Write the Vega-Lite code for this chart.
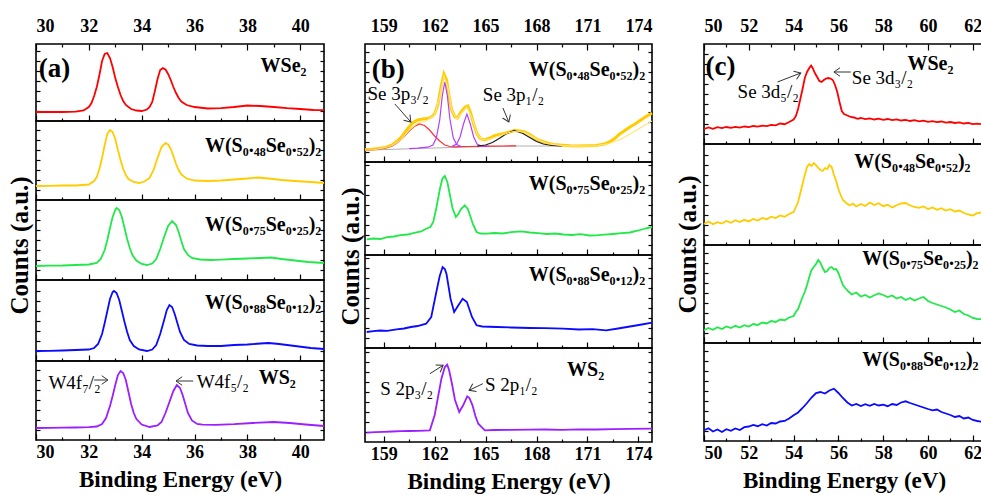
{
"$schema":"https://vega.github.io/schema/vega-lite/v6.json",
"background":"white",
"padding":{"left":6,"top":16,"right":0,"bottom":0},
"config":{
 "font":"Liberation Serif",
 "view":{"stroke":"black","strokeWidth":1.6},
 "axis":{"labelFont":"Liberation Serif","labelFontSize":18,"labelFontWeight":"bold","labelColor":"black","tickColor":"black","tickWidth":1.2,"titleFont":"Liberation Serif","titleFontSize":23,"titleFontWeight":"bold","titleColor":"black","grid":false,"domain":false},
 "text":{"font":"Liberation Serif","fontWeight":"bold","fontSize":20,"color":"black"},
 "line":{"strokeWidth":1.8,"clip":true}
},
"datasets":{
 "a1":[{"x":30,"y":9},{"x":30.5,"y":9.2},{"x":31,"y":9},{"x":31.5,"y":9.3},{"x":31.8,"y":10.5},{"x":32,"y":14},{"x":32.1,"y":18},{"x":32.2,"y":25},{"x":32.3,"y":34},{"x":32.4,"y":46},{"x":32.5,"y":60},{"x":32.6,"y":67},{"x":32.7,"y":68},{"x":32.8,"y":63},{"x":32.9,"y":54},{"x":33,"y":43},{"x":33.1,"y":34},{"x":33.2,"y":26},{"x":33.3,"y":20},{"x":33.4,"y":16},{"x":33.6,"y":12},{"x":33.8,"y":10.5},{"x":34,"y":10},{"x":34.2,"y":11.5},{"x":34.3,"y":14},{"x":34.4,"y":19},{"x":34.5,"y":30},{"x":34.6,"y":42},{"x":34.7,"y":51},{"x":34.8,"y":53},{"x":34.9,"y":51.5},{"x":35,"y":47},{"x":35.1,"y":41},{"x":35.2,"y":34},{"x":35.3,"y":28},{"x":35.4,"y":23},{"x":35.5,"y":19.5},{"x":35.7,"y":16},{"x":36,"y":14},{"x":36.5,"y":12.5},{"x":37,"y":12.8},{"x":37.5,"y":14},{"x":38,"y":15.5},{"x":38.5,"y":15},{"x":39,"y":14},{"x":39.5,"y":12.8},{"x":40,"y":12},{"x":40.5,"y":11},{"x":40.9,"y":10.8}],
 "a2":[{"x":30,"y":14},{"x":30.5,"y":14.2},{"x":31,"y":14.5},{"x":31.5,"y":14.5},{"x":32,"y":15.5},{"x":32.2,"y":19},{"x":32.3,"y":23},{"x":32.4,"y":31},{"x":32.5,"y":42},{"x":32.6,"y":55},{"x":32.7,"y":66},{"x":32.8,"y":70},{"x":32.9,"y":68},{"x":33,"y":61},{"x":33.1,"y":50},{"x":33.2,"y":40},{"x":33.3,"y":31},{"x":33.4,"y":25},{"x":33.5,"y":21},{"x":33.7,"y":18},{"x":33.9,"y":17},{"x":34.1,"y":18.5},{"x":34.3,"y":22},{"x":34.45,"y":30},{"x":34.6,"y":42},{"x":34.75,"y":53},{"x":34.9,"y":57},{"x":35,"y":55.5},{"x":35.1,"y":51},{"x":35.2,"y":44},{"x":35.3,"y":36},{"x":35.4,"y":30},{"x":35.5,"y":25.5},{"x":35.7,"y":21.5},{"x":36,"y":19.5},{"x":36.5,"y":19},{"x":37,"y":19.5},{"x":37.5,"y":20.5},{"x":38,"y":21.5},{"x":38.4,"y":22.5},{"x":38.8,"y":21.5},{"x":39.3,"y":20},{"x":39.8,"y":19},{"x":40.4,"y":18},{"x":40.9,"y":17}],
 "a3":[{"x":30,"y":14},{"x":30.5,"y":14.3},{"x":31,"y":14.5},{"x":31.5,"y":15},{"x":32,"y":15.5},{"x":32.3,"y":17},{"x":32.45,"y":21},{"x":32.6,"y":30},{"x":32.7,"y":40},{"x":32.8,"y":52},{"x":32.9,"y":63},{"x":33,"y":70},{"x":33.05,"y":72},{"x":33.15,"y":70},{"x":33.25,"y":63},{"x":33.35,"y":52},{"x":33.45,"y":41},{"x":33.55,"y":32},{"x":33.65,"y":25},{"x":33.8,"y":19.5},{"x":34,"y":16},{"x":34.2,"y":15},{"x":34.4,"y":16.5},{"x":34.55,"y":21},{"x":34.7,"y":31},{"x":34.85,"y":43},{"x":35,"y":54},{"x":35.15,"y":59},{"x":35.3,"y":55},{"x":35.4,"y":48},{"x":35.5,"y":39},{"x":35.6,"y":31},{"x":35.75,"y":25},{"x":35.9,"y":22},{"x":36.2,"y":20.5},{"x":36.6,"y":20},{"x":37,"y":20.3},{"x":37.5,"y":21},{"x":38,"y":21.5},{"x":38.5,"y":22},{"x":38.9,"y":22.5},{"x":39.3,"y":21},{"x":39.8,"y":19.5},{"x":40.3,"y":18},{"x":40.9,"y":17}],
 "a4":[{"x":30,"y":10},{"x":30.5,"y":10.2},{"x":31,"y":10.5},{"x":31.5,"y":11},{"x":32,"y":11.5},{"x":32.2,"y":13},{"x":32.35,"y":17},{"x":32.5,"y":27},{"x":32.6,"y":38},{"x":32.7,"y":50},{"x":32.8,"y":62},{"x":32.9,"y":69},{"x":32.95,"y":70},{"x":33.05,"y":68},{"x":33.15,"y":61},{"x":33.25,"y":50},{"x":33.35,"y":39},{"x":33.45,"y":29},{"x":33.55,"y":21},{"x":33.7,"y":15},{"x":33.9,"y":11.5},{"x":34.2,"y":10},{"x":34.4,"y":11.5},{"x":34.55,"y":16},{"x":34.7,"y":27},{"x":34.85,"y":41},{"x":34.95,"y":51},{"x":35.05,"y":56},{"x":35.15,"y":54},{"x":35.25,"y":47},{"x":35.35,"y":38},{"x":35.45,"y":29},{"x":35.6,"y":21},{"x":35.8,"y":17},{"x":36.1,"y":15.5},{"x":36.5,"y":15},{"x":37,"y":15},{"x":37.5,"y":16},{"x":38,"y":16.5},{"x":38.5,"y":17.5},{"x":38.8,"y":18},{"x":39.2,"y":17},{"x":39.8,"y":15},{"x":40.4,"y":13},{"x":40.9,"y":12}],
 "a5":[{"x":30,"y":12},{"x":30.5,"y":12.2},{"x":31,"y":12.3},{"x":31.5,"y":12.5},{"x":32,"y":12.8},{"x":32.3,"y":13.5},{"x":32.5,"y":16},{"x":32.65,"y":22},{"x":32.8,"y":34},{"x":32.9,"y":44},{"x":33,"y":55},{"x":33.1,"y":65},{"x":33.2,"y":69},{"x":33.3,"y":67},{"x":33.4,"y":60},{"x":33.5,"y":48},{"x":33.6,"y":36},{"x":33.7,"y":27},{"x":33.8,"y":21},{"x":34,"y":15.5},{"x":34.3,"y":13},{"x":34.6,"y":14.5},{"x":34.75,"y":18},{"x":34.9,"y":27},{"x":35.05,"y":38},{"x":35.2,"y":49},{"x":35.33,"y":55},{"x":35.45,"y":52},{"x":35.55,"y":45},{"x":35.65,"y":36},{"x":35.75,"y":27},{"x":35.9,"y":19.5},{"x":36.1,"y":16},{"x":36.3,"y":15.3},{"x":36.8,"y":15.2},{"x":37.5,"y":15.8},{"x":38.2,"y":17},{"x":39,"y":18},{"x":39.6,"y":17},{"x":40.2,"y":15.5},{"x":40.9,"y":14}],
 "b1y":[{"x":157.9,"y":12.5},{"x":158.3,"y":12.8},{"x":158.7,"y":13.5},{"x":159.1,"y":14.5},{"x":159.5,"y":17},{"x":159.8,"y":21},{"x":160.1,"y":26},{"x":160.4,"y":33},{"x":160.7,"y":39},{"x":161,"y":42},{"x":161.3,"y":43},{"x":161.6,"y":43.5},{"x":161.8,"y":45},{"x":162,"y":48},{"x":162.2,"y":58},{"x":162.4,"y":77},{"x":162.55,"y":88},{"x":162.7,"y":82},{"x":162.85,"y":66},{"x":163,"y":52},{"x":163.2,"y":45},{"x":163.35,"y":44},{"x":163.55,"y":50},{"x":163.8,"y":55},{"x":163.95,"y":56},{"x":164.1,"y":50},{"x":164.3,"y":38},{"x":164.5,"y":28},{"x":164.7,"y":23.5},{"x":164.9,"y":22},{"x":165.2,"y":23.5},{"x":165.5,"y":26},{"x":165.8,"y":27.5},{"x":166.1,"y":28.5},{"x":166.4,"y":30},{"x":166.7,"y":31.5},{"x":167,"y":31},{"x":167.3,"y":30},{"x":167.6,"y":27.5},{"x":167.9,"y":24},{"x":168.2,"y":21.5},{"x":168.6,"y":19},{"x":169,"y":17.5},{"x":169.5,"y":16.8},{"x":170,"y":16.2},{"x":170.5,"y":16},{"x":171,"y":16.3},{"x":171.5,"y":16.5},{"x":172,"y":18},{"x":172.3,"y":20},{"x":172.6,"y":23.5},{"x":172.9,"y":28},{"x":173.2,"y":31.5},{"x":173.5,"y":35},{"x":173.8,"y":38},{"x":174.1,"y":41.5},{"x":174.4,"y":45},{"x":174.8,"y":49}],
 "b1f":[{"x":157.9,"y":12},{"x":158.5,"y":12.5},{"x":159,"y":14},{"x":159.5,"y":16.5},{"x":160,"y":22},{"x":160.5,"y":32},{"x":161,"y":39},{"x":161.5,"y":41},{"x":162,"y":47},{"x":162.3,"y":65},{"x":162.55,"y":86},{"x":162.8,"y":73},{"x":163,"y":52},{"x":163.3,"y":43},{"x":163.6,"y":49},{"x":163.9,"y":55},{"x":164.2,"y":44},{"x":164.5,"y":28},{"x":164.8,"y":22},{"x":165.2,"y":22.5},{"x":165.8,"y":26},{"x":166.4,"y":29.5},{"x":166.8,"y":31},{"x":167.3,"y":29.5},{"x":167.9,"y":24},{"x":168.6,"y":18.5},{"x":169.5,"y":16.3},{"x":170.5,"y":15.8},{"x":171.5,"y":16.2},{"x":172.3,"y":18.5},{"x":173,"y":23},{"x":173.6,"y":29},{"x":174.2,"y":35},{"x":174.8,"y":41}],
 "b1r":[{"x":157.9,"y":12},{"x":158.5,"y":12.5},{"x":159,"y":13.5},{"x":159.5,"y":16},{"x":159.9,"y":20.5},{"x":160.2,"y":25.5},{"x":160.5,"y":31},{"x":160.8,"y":35.5},{"x":161.1,"y":38},{"x":161.4,"y":36.5},{"x":161.7,"y":32},{"x":162,"y":26},{"x":162.3,"y":21},{"x":162.6,"y":17},{"x":162.9,"y":15.5},{"x":163.2,"y":15.2},{"x":163.5,"y":15.3},{"x":164,"y":15.5},{"x":165,"y":15.8},{"x":166,"y":16},{"x":166.8,"y":16.2}],
 "b1p":[{"g":"p1","x":160.5,"y":13.3},{"g":"p1","x":161,"y":13.8},{"g":"p1","x":161.6,"y":14.8},{"g":"p1","x":161.9,"y":17},{"g":"p1","x":162.1,"y":24},{"g":"p1","x":162.3,"y":42},{"g":"p1","x":162.45,"y":66},{"g":"p1","x":162.6,"y":80},{"g":"p1","x":162.75,"y":66},{"g":"p1","x":162.9,"y":43},{"g":"p1","x":163.1,"y":24},{"g":"p1","x":163.3,"y":17.5},{"g":"p1","x":163.6,"y":15.3},{"g":"p2","x":163,"y":15.4},{"g":"p2","x":163.3,"y":18},{"g":"p2","x":163.5,"y":25},{"g":"p2","x":163.7,"y":38},{"g":"p2","x":163.9,"y":48},{"g":"p2","x":164.1,"y":38},{"g":"p2","x":164.3,"y":25},{"g":"p2","x":164.5,"y":18},{"g":"p2","x":164.8,"y":15.8},{"g":"p2","x":165.2,"y":15.7}],
 "b1k":[{"x":164.5,"y":16},{"x":165,"y":17},{"x":165.4,"y":19.5},{"x":165.8,"y":23.5},{"x":166.2,"y":28},{"x":166.7,"y":31.5},{"x":167.2,"y":28.5},{"x":167.6,"y":24.5},{"x":168,"y":20.5},{"x":168.4,"y":18},{"x":168.9,"y":16.5},{"x":169.5,"y":16}],
 "b1g":[{"x":157.9,"y":11.8},{"x":161,"y":13.5},{"x":164,"y":15},{"x":167,"y":16},{"x":169.5,"y":16}],
 "b2":[{"x":158,"y":15.7},{"x":158.4,"y":16.5},{"x":158.8,"y":16},{"x":159.2,"y":17.8},{"x":159.6,"y":18.5},{"x":160,"y":19.8},{"x":160.4,"y":20.5},{"x":160.8,"y":22.2},{"x":161.2,"y":23.5},{"x":161.5,"y":26.3},{"x":161.75,"y":28},{"x":161.92,"y":33},{"x":162.1,"y":47},{"x":162.31,"y":66},{"x":162.45,"y":76},{"x":162.6,"y":79},{"x":162.75,"y":73},{"x":162.9,"y":60},{"x":163.05,"y":47},{"x":163.25,"y":38},{"x":163.4,"y":41},{"x":163.55,"y":46},{"x":163.78,"y":49.7},{"x":163.95,"y":46},{"x":164.08,"y":40},{"x":164.25,"y":31},{"x":164.47,"y":23},{"x":164.7,"y":21.5},{"x":165.06,"y":21.3},{"x":165.5,"y":22},{"x":166,"y":21.5},{"x":166.5,"y":22.8},{"x":167.1,"y":23.7},{"x":167.6,"y":22.5},{"x":168.1,"y":21.8},{"x":168.6,"y":21},{"x":169.1,"y":21.5},{"x":169.6,"y":20.5},{"x":170.1,"y":20},{"x":170.6,"y":20.8},{"x":171.1,"y":19.5},{"x":171.5,"y":19.7},{"x":172,"y":20.3},{"x":172.5,"y":21},{"x":173,"y":21.8},{"x":173.5,"y":22.5},{"x":174,"y":24.5},{"x":174.4,"y":26.5},{"x":174.8,"y":28}],
 "b3":[{"x":158,"y":16},{"x":158.4,"y":16.8},{"x":158.8,"y":17.5},{"x":159.2,"y":17.2},{"x":159.76,"y":18.7},{"x":160.2,"y":19.5},{"x":160.6,"y":21},{"x":161,"y":22},{"x":161.5,"y":24.3},{"x":161.8,"y":31},{"x":162.1,"y":56},{"x":162.3,"y":72},{"x":162.47,"y":81},{"x":162.6,"y":79},{"x":162.7,"y":74},{"x":162.94,"y":49},{"x":163.15,"y":36},{"x":163.4,"y":42.7},{"x":163.65,"y":49.3},{"x":163.9,"y":46},{"x":164.2,"y":31},{"x":164.47,"y":22.7},{"x":164.8,"y":21.5},{"x":165.65,"y":21},{"x":166.5,"y":20.5},{"x":167.6,"y":20},{"x":168.5,"y":19.8},{"x":169.57,"y":19.3},{"x":170.5,"y":18.5},{"x":171.3,"y":18.8},{"x":172.1,"y":17.7},{"x":172.8,"y":19.5},{"x":173.5,"y":21.5},{"x":174.2,"y":23.5},{"x":174.8,"y":25.3}],
 "b4":[{"x":158,"y":9.3},{"x":158.5,"y":9.8},{"x":159,"y":10.2},{"x":159.5,"y":10.5},{"x":160,"y":10.8},{"x":160.5,"y":11},{"x":161,"y":11.2},{"x":161.72,"y":11.7},{"x":162,"y":26.7},{"x":162.2,"y":45},{"x":162.4,"y":63.3},{"x":162.6,"y":75},{"x":162.74,"y":77.3},{"x":162.85,"y":72},{"x":163,"y":60},{"x":163.2,"y":42},{"x":163.45,"y":30},{"x":163.68,"y":36.7},{"x":163.92,"y":45.7},{"x":164.05,"y":44},{"x":164.23,"y":36.7},{"x":164.4,"y":26},{"x":164.57,"y":18.3},{"x":164.96,"y":11.7},{"x":165.5,"y":12},{"x":166.5,"y":12.2},{"x":167.6,"y":12.3},{"x":168.5,"y":12.5},{"x":169.5,"y":12.2},{"x":170.5,"y":12.7},{"x":171.53,"y":12.5},{"x":172.5,"y":12.9},{"x":173.5,"y":13.1},{"x":174.8,"y":13.3}],
 "c1":[{"x":50,"y":15},{"x":50.2,"y":16.5},{"x":50.4,"y":15.2},{"x":50.6,"y":16.8},{"x":50.8,"y":15.9},{"x":51,"y":17},{"x":51.2,"y":16.1},{"x":51.4,"y":17.2},{"x":51.6,"y":16.4},{"x":51.8,"y":17.5},{"x":52,"y":16.8},{"x":52.2,"y":18},{"x":52.4,"y":17.3},{"x":52.6,"y":18.4},{"x":52.8,"y":17.8},{"x":53,"y":19.2},{"x":53.2,"y":18.6},{"x":53.4,"y":20.5},{"x":53.6,"y":19.8},{"x":53.8,"y":22},{"x":54,"y":24.5},{"x":54.1,"y":28},{"x":54.2,"y":35},{"x":54.3,"y":45},{"x":54.4,"y":55},{"x":54.5,"y":66},{"x":54.6,"y":72},{"x":54.7,"y":76},{"x":54.78,"y":78.5},{"x":54.85,"y":76},{"x":54.95,"y":71},{"x":55.05,"y":67},{"x":55.15,"y":63},{"x":55.25,"y":62},{"x":55.35,"y":64},{"x":55.45,"y":65.5},{"x":55.55,"y":66},{"x":55.65,"y":65.5},{"x":55.75,"y":64},{"x":55.85,"y":59},{"x":55.95,"y":52},{"x":56.05,"y":42},{"x":56.15,"y":33},{"x":56.25,"y":30},{"x":56.4,"y":28.5},{"x":56.55,"y":27},{"x":56.7,"y":26.5},{"x":56.85,"y":25.2},{"x":57,"y":26},{"x":57.2,"y":24.8},{"x":57.4,"y":25.6},{"x":57.6,"y":24.5},{"x":57.8,"y":25.3},{"x":58,"y":24.2},{"x":58.2,"y":25},{"x":58.4,"y":23.8},{"x":58.6,"y":24.6},{"x":58.8,"y":23.5},{"x":59,"y":24.2},{"x":59.2,"y":23},{"x":59.4,"y":23.8},{"x":59.6,"y":22.6},{"x":59.8,"y":23.3},{"x":60,"y":22.2},{"x":60.2,"y":22.9},{"x":60.4,"y":21.8},{"x":60.6,"y":22.5},{"x":60.8,"y":21.4},{"x":61,"y":22},{"x":61.2,"y":21},{"x":61.4,"y":21.6},{"x":61.6,"y":20.5},{"x":61.8,"y":21.1},{"x":62,"y":19.9},{"x":62.2,"y":20.4},{"x":62.5,"y":19.3}],
 "c2":[{"x":50,"y":21},{"x":50.2,"y":23.5},{"x":50.4,"y":20.8},{"x":50.6,"y":22.9},{"x":50.8,"y":21.5},{"x":51,"y":24},{"x":51.2,"y":22.2},{"x":51.4,"y":24.8},{"x":51.6,"y":23},{"x":51.8,"y":25.2},{"x":52,"y":23.6},{"x":52.2,"y":26},{"x":52.4,"y":24.5},{"x":52.6,"y":27},{"x":52.8,"y":25.8},{"x":53,"y":28.3},{"x":53.2,"y":26.9},{"x":53.4,"y":29.5},{"x":53.6,"y":28.2},{"x":53.8,"y":31},{"x":54,"y":33},{"x":54.1,"y":38},{"x":54.2,"y":43},{"x":54.3,"y":52},{"x":54.4,"y":61},{"x":54.5,"y":70},{"x":54.6,"y":78},{"x":54.7,"y":81},{"x":54.8,"y":79},{"x":54.9,"y":82},{"x":55,"y":80},{"x":55.1,"y":77},{"x":55.2,"y":75},{"x":55.3,"y":74},{"x":55.4,"y":77},{"x":55.5,"y":76},{"x":55.6,"y":80},{"x":55.7,"y":78},{"x":55.8,"y":70},{"x":55.9,"y":64},{"x":56,"y":56},{"x":56.1,"y":50},{"x":56.2,"y":45},{"x":56.35,"y":42},{"x":56.5,"y":39.5},{"x":56.65,"y":41.5},{"x":56.8,"y":38.5},{"x":57,"y":41},{"x":57.2,"y":39},{"x":57.4,"y":42.5},{"x":57.6,"y":40},{"x":57.8,"y":41.8},{"x":58,"y":38.8},{"x":58.2,"y":40.2},{"x":58.4,"y":37.5},{"x":58.6,"y":39.8},{"x":58.8,"y":41.5},{"x":59,"y":42},{"x":59.2,"y":39.5},{"x":59.4,"y":38},{"x":59.6,"y":37.2},{"x":59.8,"y":38.5},{"x":60,"y":36},{"x":60.2,"y":37.5},{"x":60.4,"y":35.2},{"x":60.6,"y":36.8},{"x":60.8,"y":34.5},{"x":61,"y":35.8},{"x":61.2,"y":33.5},{"x":61.4,"y":34.5},{"x":61.6,"y":32},{"x":61.8,"y":30.5},{"x":62,"y":29.5},{"x":62.2,"y":31.8},{"x":62.5,"y":33}],
 "c3":[{"x":50,"y":12.7},{"x":50.2,"y":15},{"x":50.4,"y":13.2},{"x":50.6,"y":15.8},{"x":50.8,"y":14},{"x":51,"y":16.5},{"x":51.2,"y":15},{"x":51.4,"y":17.2},{"x":51.6,"y":15.5},{"x":51.8,"y":17.8},{"x":52,"y":16.5},{"x":52.2,"y":19},{"x":52.4,"y":18},{"x":52.6,"y":20.5},{"x":52.8,"y":19.5},{"x":53,"y":22},{"x":53.2,"y":21},{"x":53.4,"y":23.5},{"x":53.6,"y":22.8},{"x":53.8,"y":25.5},{"x":54,"y":27},{"x":54.1,"y":31},{"x":54.2,"y":34},{"x":54.3,"y":40},{"x":54.4,"y":46},{"x":54.5,"y":51},{"x":54.6,"y":58},{"x":54.7,"y":66},{"x":54.8,"y":73},{"x":54.9,"y":76},{"x":55,"y":79},{"x":55.1,"y":83},{"x":55.2,"y":80},{"x":55.3,"y":75},{"x":55.4,"y":71},{"x":55.5,"y":72},{"x":55.6,"y":75},{"x":55.7,"y":76},{"x":55.8,"y":73.5},{"x":55.9,"y":74},{"x":56,"y":70},{"x":56.1,"y":64},{"x":56.2,"y":58},{"x":56.3,"y":55},{"x":56.45,"y":51.5},{"x":56.6,"y":48.5},{"x":56.8,"y":50.5},{"x":57,"y":46.5},{"x":57.2,"y":48},{"x":57.4,"y":45.5},{"x":57.6,"y":47.8},{"x":57.8,"y":49.5},{"x":58,"y":48},{"x":58.2,"y":46},{"x":58.4,"y":47.5},{"x":58.6,"y":44.5},{"x":58.8,"y":46},{"x":59,"y":43},{"x":59.2,"y":45},{"x":59.4,"y":42.5},{"x":59.6,"y":44.5},{"x":59.8,"y":46},{"x":60,"y":42},{"x":60.2,"y":40},{"x":60.4,"y":38.5},{"x":60.6,"y":37},{"x":60.8,"y":35.5},{"x":61,"y":33.5},{"x":61.2,"y":31},{"x":61.4,"y":32.5},{"x":61.6,"y":29},{"x":61.8,"y":27.5},{"x":62,"y":25},{"x":62.2,"y":24},{"x":62.5,"y":23.7}],
 "c4":[{"x":50,"y":10.7},{"x":50.2,"y":12.8},{"x":50.4,"y":9.5},{"x":50.6,"y":11.5},{"x":50.8,"y":9},{"x":51,"y":11.8},{"x":51.2,"y":10.2},{"x":51.4,"y":12.5},{"x":51.6,"y":11},{"x":51.8,"y":13.8},{"x":52,"y":14.5},{"x":52.2,"y":16},{"x":52.4,"y":14.8},{"x":52.6,"y":16.8},{"x":52.8,"y":15.5},{"x":53,"y":18},{"x":53.2,"y":17.5},{"x":53.4,"y":19.5},{"x":53.6,"y":20},{"x":53.8,"y":22.5},{"x":54,"y":25.7},{"x":54.2,"y":28.5},{"x":54.4,"y":33},{"x":54.6,"y":38},{"x":54.8,"y":43.5},{"x":55,"y":48},{"x":55.2,"y":49},{"x":55.4,"y":47.5},{"x":55.6,"y":50.5},{"x":55.8,"y":52.3},{"x":56,"y":48},{"x":56.2,"y":43},{"x":56.4,"y":38.5},{"x":56.6,"y":35.5},{"x":56.8,"y":37},{"x":57,"y":35},{"x":57.2,"y":36.8},{"x":57.4,"y":35.2},{"x":57.6,"y":37},{"x":57.8,"y":35.5},{"x":58,"y":36.3},{"x":58.2,"y":34.8},{"x":58.4,"y":37},{"x":58.6,"y":36},{"x":58.8,"y":38.5},{"x":59,"y":39.7},{"x":59.2,"y":38},{"x":59.4,"y":36.5},{"x":59.6,"y":35},{"x":59.8,"y":33.5},{"x":60,"y":32},{"x":60.2,"y":30.7},{"x":60.4,"y":31.5},{"x":60.6,"y":29},{"x":60.8,"y":27.5},{"x":61,"y":26},{"x":61.2,"y":24},{"x":61.4,"y":25},{"x":61.6,"y":22.5},{"x":61.8,"y":23.5},{"x":62,"y":21},{"x":62.2,"y":20},{"x":62.5,"y":19}]
},
"hconcat":[
 {"vconcat":[
  {"width":288,"height":77,"layer":[
   {"data":{"name":"a1"},"mark":{"type":"line","color":"#ff0000"},"encoding":{
    "x":{"field":"x","type":"quantitative","scale":{"domain":[30,40.9],"nice":false,"zero":false},"axis":{"orient":"bottom","values":[30,31,32,33,34,35,36,37,38,39,40],"labels":false,"title":null,"tickSize":{"condition":{"test":"datum.value % 2 === 1","value":-3},"value":-6}}},
    "y":{"field":"y","type":"quantitative","scale":{"domain":[0,77],"nice":false},"axis":{"orient":"left","values":[10,20,30,40,50,60,70],"labels":false,"title":null,"tickSize":-4}}}},
   {"data":{"values":[{"x":38.5,"y":55,"t":"WSe₂"}]},"mark":{"type":"text","align":"left","baseline":"middle"},"encoding":{
    "x":{"field":"x","type":"quantitative","axis":{"orient":"top","values":[30,31,32,33,34,35,36,37,38,39,40],"labelExpr":"datum.value % 2 === 0 ? datum.label : ''","title":null,"labelPadding":15,"tickSize":{"condition":{"test":"datum.value % 2 === 1","value":-3},"value":-6}}},
    "y":{"field":"y","type":"quantitative","axis":{"orient":"right","values":[10,20,30,40,50,60,70],"labels":false,"title":null,"tickSize":-4}},
    "text":{"field":"t"}}},
   {"data":{"values":[{"x":30.1,"y":52,"t":"(a)"}]},"mark":{"type":"text","align":"left","baseline":"middle","fontSize":27},"encoding":{
    "x":{"field":"x","type":"quantitative","axis":null},"y":{"field":"y","type":"quantitative","axis":null},"text":{"field":"t"}}}
  ],"resolve":{"axis":{"x":"independent","y":"independent"}}},
  {"width":288,"height":79,"layer":[
   {"data":{"name":"a2"},"mark":{"type":"line","color":"#ffcc00"},"encoding":{
    "x":{"field":"x","type":"quantitative","scale":{"domain":[30,40.9],"nice":false,"zero":false},"axis":{"orient":"bottom","values":[30,31,32,33,34,35,36,37,38,39,40],"labels":false,"title":null,"tickSize":{"condition":{"test":"datum.value % 2 === 1","value":-3},"value":-6}}},
    "y":{"field":"y","type":"quantitative","scale":{"domain":[0,79],"nice":false},"axis":{"orient":"left","values":[10,20,30,40,50,60,70],"labels":false,"title":null,"tickSize":-4}}}},
   {"data":{"values":[{"x":40.8,"y":54,"t":"W(S₀.₄₈Se₀.₅₂)₂"}]},"mark":{"type":"text","align":"right","baseline":"middle"},"encoding":{
    "x":{"field":"x","type":"quantitative","axis":null},
    "y":{"field":"y","type":"quantitative","axis":{"orient":"right","values":[10,20,30,40,50,60,70],"labels":false,"title":null,"tickSize":-4}},
    "text":{"field":"t"}}}
  ],"resolve":{"axis":{"x":"independent","y":"independent"}}},
  {"width":288,"height":80,"layer":[
   {"data":{"name":"a3"},"mark":{"type":"line","color":"#22e84a"},"encoding":{
    "x":{"field":"x","type":"quantitative","scale":{"domain":[30,40.9],"nice":false,"zero":false},"axis":{"orient":"bottom","values":[30,31,32,33,34,35,36,37,38,39,40],"labels":false,"title":null,"tickSize":{"condition":{"test":"datum.value % 2 === 1","value":-3},"value":-6}}},
    "y":{"field":"y","type":"quantitative","scale":{"domain":[0,80],"nice":false},"axis":{"orient":"left","values":[10,20,30,40,50,60,70],"labels":false,"title":"Counts (a.u.)","titleFontSize":25,"titleX":-9,"titleY":45,"titleBaseline":"alphabetic","tickSize":-4}}}},
   {"data":{"values":[{"x":40.8,"y":55,"t":"W(S₀.₇₅Se₀.₂₅)₂"}]},"mark":{"type":"text","align":"right","baseline":"middle"},"encoding":{
    "x":{"field":"x","type":"quantitative","axis":null},
    "y":{"field":"y","type":"quantitative","axis":{"orient":"right","values":[10,20,30,40,50,60,70],"labels":false,"title":null,"tickSize":-4}},
    "text":{"field":"t"}}}
  ],"resolve":{"axis":{"x":"independent","y":"independent"}}},
  {"width":288,"height":81,"layer":[
   {"data":{"name":"a4"},"mark":{"type":"line","color":"#0a0aff"},"encoding":{
    "x":{"field":"x","type":"quantitative","scale":{"domain":[30,40.9],"nice":false,"zero":false},"axis":{"orient":"bottom","values":[30,31,32,33,34,35,36,37,38,39,40],"labels":false,"title":null,"tickSize":{"condition":{"test":"datum.value % 2 === 1","value":-3},"value":-6}}},
    "y":{"field":"y","type":"quantitative","scale":{"domain":[0,81],"nice":false},"axis":{"orient":"left","values":[10,20,30,40,50,60,70],"labels":false,"title":null,"tickSize":-4}}}},
   {"data":{"values":[{"x":40.8,"y":58,"t":"W(S₀.₈₈Se₀.₁₂)₂"}]},"mark":{"type":"text","align":"right","baseline":"middle"},"encoding":{
    "x":{"field":"x","type":"quantitative","axis":null},
    "y":{"field":"y","type":"quantitative","axis":{"orient":"right","values":[10,20,30,40,50,60,70],"labels":false,"title":null,"tickSize":-4}},
    "text":{"field":"t"}}}
  ],"resolve":{"axis":{"x":"independent","y":"independent"}}},
  {"width":288,"height":79,"layer":[
   {"data":{"name":"a5"},"mark":{"type":"line","color":"#9b1fff"},"encoding":{
    "x":{"field":"x","type":"quantitative","scale":{"domain":[30,40.9],"nice":false,"zero":false},"axis":{"orient":"bottom","values":[30,31,32,33,34,35,36,37,38,39,40],"labelExpr":"datum.value % 2 === 0 ? datum.label : ''","labelPadding":9,"title":"Binding Energy (eV)","titlePadding":7,"tickSize":{"condition":{"test":"datum.value % 2 === 1","value":-3},"value":-6}}},
    "y":{"field":"y","type":"quantitative","scale":{"domain":[0,79],"nice":false},"axis":{"orient":"left","values":[10,20,30,40,50,60,70],"labels":false,"title":null,"tickSize":-4}}}},
   {"data":{"values":[{"x":38.43,"y":62,"t":"WS₂"}]},"mark":{"type":"text","align":"left","baseline":"middle"},"encoding":{
    "x":{"field":"x","type":"quantitative","axis":null},
    "y":{"field":"y","type":"quantitative","axis":{"orient":"right","values":[10,20,30,40,50,60,70],"labels":false,"title":null,"tickSize":-4}},
    "text":{"field":"t"}}},
   {"data":{"values":[{"x":30.47,"y":57,"t":"W4f₇/₂"},{"x":36.08,"y":58,"t":"W4f₅/₂"}]},"mark":{"type":"text","align":"left","baseline":"middle","fontWeight":"normal","fontSize":19},"encoding":{
    "x":{"field":"x","type":"quantitative","axis":null},"y":{"field":"y","type":"quantitative","axis":null},"text":{"field":"t"}}},
   {"data":{"values":[{"x":32.2,"y":60,"x2":32.72,"y2":60},{"x":35.95,"y":59,"x2":35.3,"y2":59}]},"mark":{"type":"rule","color":"#333333","strokeWidth":1},"encoding":{
    "x":{"field":"x","type":"quantitative","axis":null},"y":{"field":"y","type":"quantitative","axis":null},"x2":{"field":"x2"},"y2":{"field":"y2"}}},
   {"data":{"values":[{"x":32.72,"y":60,"a":0},{"x":35.3,"y":59,"a":180}]},"mark":{"type":"point","shape":"M-1,-0.7L0,0L-1,0.7","filled":false,"color":"#333333","strokeWidth":1,"size":150,"opacity":1},"encoding":{
    "x":{"field":"x","type":"quantitative","axis":null},"y":{"field":"y","type":"quantitative","axis":null},"angle":{"field":"a","type":"quantitative","scale":null}}}
  ],"resolve":{"axis":{"x":"independent","y":"independent"}}}
 ],"spacing":0,"bounds":"flush"},
 {"hconcat":[
  {"vconcat":[
   {"width":287,"height":118,"layer":[
    {"data":{"name":"b1y"},"mark":{"type":"line","color":"#ffcc00","strokeWidth":3},"encoding":{
     "x":{"field":"x","type":"quantitative","scale":{"domain":[157.9,174.8],"nice":false,"zero":false},"axis":{"orient":"bottom","values":[159,160.5,162,163.5,165,166.5,168,169.5,171,172.5,174],"labels":false,"title":null,"tickSize":{"condition":{"test":"datum.value % 3 !== 0","value":-3},"value":-6}}},
     "y":{"field":"y","type":"quantitative","scale":{"domain":[0,118],"nice":false},"axis":{"orient":"left","values":[10,20,30,40,50,60,70,80,90,100,110],"labels":false,"title":null,"tickSize":-4}}}},
    {"data":{"values":[{"x":174.4,"y":92,"t":"W(S₀.₄₈Se₀.₅₂)₂"}]},"mark":{"type":"text","align":"right","baseline":"middle"},"encoding":{
     "x":{"field":"x","type":"quantitative","axis":{"orient":"top","values":[159,160.5,162,163.5,165,166.5,168,169.5,171,172.5,174],"labelExpr":"datum.value % 3 === 0 ? datum.label : ''","title":null,"labelPadding":15,"tickSize":{"condition":{"test":"datum.value % 3 !== 0","value":-3},"value":-6}}},
     "y":{"field":"y","type":"quantitative","axis":{"orient":"right","values":[10,20,30,40,50,60,70,80,90,100,110],"labels":false,"title":null,"tickSize":-4}},
     "text":{"field":"t"}}},
    {"data":{"name":"b1g"},"mark":{"type":"line","color":"#b0b0b0","strokeWidth":1},"encoding":{"x":{"field":"x","type":"quantitative","axis":null},"y":{"field":"y","type":"quantitative","axis":null}}},
    {"data":{"name":"b1r"},"mark":{"type":"line","color":"#ff3030","strokeWidth":1.2},"encoding":{"x":{"field":"x","type":"quantitative","axis":null},"y":{"field":"y","type":"quantitative","axis":null}}},
    {"data":{"name":"b1p"},"mark":{"type":"line","color":"#b040ff","strokeWidth":1.2},"encoding":{"x":{"field":"x","type":"quantitative","axis":null},"y":{"field":"y","type":"quantitative","axis":null},"detail":{"field":"g"}}},
    {"data":{"name":"b1k"},"mark":{"type":"line","color":"#1a1a1a","strokeWidth":1.2},"encoding":{"x":{"field":"x","type":"quantitative","axis":null},"y":{"field":"y","type":"quantitative","axis":null}}},
    {"data":{"name":"b1f"},"mark":{"type":"line","color":"#ffe680","strokeWidth":1.2},"encoding":{"x":{"field":"x","type":"quantitative","axis":null},"y":{"field":"y","type":"quantitative","axis":null}}},
    {"data":{"values":[{"x":158.3,"y":92,"t":"(b)"}]},"mark":{"type":"text","align":"left","baseline":"middle","fontSize":27},"encoding":{
     "x":{"field":"x","type":"quantitative","axis":null},"y":{"field":"y","type":"quantitative","axis":null},"text":{"field":"t"}}},
    {"data":{"values":[{"x":158.05,"y":68,"t":"Se 3p₃/₂"},{"x":164.84,"y":67,"t":"Se 3p₁/₂"}]},"mark":{"type":"text","align":"left","baseline":"middle","fontWeight":"normal","fontSize":19},"encoding":{
     "x":{"field":"x","type":"quantitative","axis":null},"y":{"field":"y","type":"quantitative","axis":null},"text":{"field":"t"}}},
    {"data":{"values":[{"x":159.66,"y":58,"x2":160.6,"y2":40},{"x":166.02,"y":54,"x2":166.37,"y2":40}]},"mark":{"type":"rule","color":"#333333","strokeWidth":1},"encoding":{
     "x":{"field":"x","type":"quantitative","axis":null},"y":{"field":"y","type":"quantitative","axis":null},"x2":{"field":"x2"},"y2":{"field":"y2"}}},
    {"data":{"values":[{"x":160.6,"y":40,"a":48},{"x":166.37,"y":40,"a":67}]},"mark":{"type":"point","shape":"M-1,-0.7L0,0L-1,0.7","filled":false,"color":"#333333","strokeWidth":1,"size":150,"opacity":1},"encoding":{
     "x":{"field":"x","type":"quantitative","axis":null},"y":{"field":"y","type":"quantitative","axis":null},"angle":{"field":"a","type":"quantitative","scale":null}}}
   ],"resolve":{"axis":{"x":"independent","y":"independent"}}},
   {"width":287,"height":93,"layer":[
    {"data":{"name":"b2"},"mark":{"type":"line","color":"#22e84a"},"encoding":{
     "x":{"field":"x","type":"quantitative","scale":{"domain":[157.9,174.8],"nice":false,"zero":false},"axis":{"orient":"bottom","values":[159,160.5,162,163.5,165,166.5,168,169.5,171,172.5,174],"labels":false,"title":null,"tickSize":{"condition":{"test":"datum.value % 3 !== 0","value":-3},"value":-6}}},
     "y":{"field":"y","type":"quantitative","scale":{"domain":[0,93],"nice":false},"axis":{"orient":"left","values":[10,20,30,40,50,60,70,80,90],"labels":false,"title":"Counts (a.u.)","titleFontSize":25,"titleX":-7,"titleY":94,"titleBaseline":"alphabetic","tickSize":-4}}}},
    {"data":{"values":[{"x":174.4,"y":71,"t":"W(S₀.₇₅Se₀.₂₅)₂"}]},"mark":{"type":"text","align":"right","baseline":"middle"},"encoding":{
     "x":{"field":"x","type":"quantitative","axis":null},
     "y":{"field":"y","type":"quantitative","axis":{"orient":"right","values":[10,20,30,40,50,60,70,80,90],"labels":false,"title":null,"tickSize":-4}},
     "text":{"field":"t"}}}
   ],"resolve":{"axis":{"x":"independent","y":"independent"}}},
   {"width":287,"height":93,"layer":[
    {"data":{"name":"b3"},"mark":{"type":"line","color":"#0a0aff"},"encoding":{
     "x":{"field":"x","type":"quantitative","scale":{"domain":[157.9,174.8],"nice":false,"zero":false},"axis":{"orient":"bottom","values":[159,160.5,162,163.5,165,166.5,168,169.5,171,172.5,174],"labels":false,"title":null,"tickSize":{"condition":{"test":"datum.value % 3 !== 0","value":-3},"value":-6}}},
     "y":{"field":"y","type":"quantitative","scale":{"domain":[0,93],"nice":false},"axis":{"orient":"left","values":[10,20,30,40,50,60,70,80,90],"labels":false,"title":null,"tickSize":-4}}}},
    {"data":{"values":[{"x":174.4,"y":73,"t":"W(S₀.₈₈Se₀.₁₂)₂"}]},"mark":{"type":"text","align":"right","baseline":"middle"},"encoding":{
     "x":{"field":"x","type":"quantitative","axis":null},
     "y":{"field":"y","type":"quantitative","axis":{"orient":"right","values":[10,20,30,40,50,60,70,80,90],"labels":false,"title":null,"tickSize":-4}},
     "text":{"field":"t"}}}
   ],"resolve":{"axis":{"x":"independent","y":"independent"}}},
   {"width":287,"height":94,"layer":[
    {"data":{"name":"b4"},"mark":{"type":"line","color":"#9b1fff"},"encoding":{
     "x":{"field":"x","type":"quantitative","scale":{"domain":[157.9,174.8],"nice":false,"zero":false},"axis":{"orient":"bottom","values":[159,160.5,162,163.5,165,166.5,168,169.5,171,172.5,174],"labelExpr":"datum.value % 3 === 0 ? datum.label : ''","labelPadding":9,"title":"Binding Energy (eV)","titlePadding":7,"tickSize":{"condition":{"test":"datum.value % 3 !== 0","value":-3},"value":-6}}},
     "y":{"field":"y","type":"quantitative","scale":{"domain":[0,94],"nice":false},"axis":{"orient":"left","values":[10,20,30,40,50,60,70,80,90],"labels":false,"title":null,"tickSize":-4}}}},
    {"data":{"values":[{"x":169.8,"y":72,"t":"WS₂"}]},"mark":{"type":"text","align":"left","baseline":"middle"},"encoding":{
     "x":{"field":"x","type":"quantitative","axis":null},
     "y":{"field":"y","type":"quantitative","axis":{"orient":"right","values":[10,20,30,40,50,60,70,80,90],"labels":false,"title":null,"tickSize":-4}},
     "text":{"field":"t"}}},
    {"data":{"values":[{"x":158.8,"y":53,"t":"S 2p₃/₂"},{"x":164.96,"y":57,"t":"S 2p₁/₂"}]},"mark":{"type":"text","align":"left","baseline":"middle","fontWeight":"normal","fontSize":19},"encoding":{
     "x":{"field":"x","type":"quantitative","axis":null},"y":{"field":"y","type":"quantitative","axis":null},"text":{"field":"t"}}},
    {"data":{"values":[{"x":161.72,"y":68.3,"x2":162.5,"y2":76.7},{"x":164.84,"y":58.3,"x2":164.03,"y2":51.7}]},"mark":{"type":"rule","color":"#333333","strokeWidth":1},"encoding":{
     "x":{"field":"x","type":"quantitative","axis":null},"y":{"field":"y","type":"quantitative","axis":null},"x2":{"field":"x2"},"y2":{"field":"y2"}}},
    {"data":{"values":[{"x":162.5,"y":76.7,"a":-32},{"x":164.03,"y":51.7,"a":154}]},"mark":{"type":"point","shape":"M-1,-0.7L0,0L-1,0.7","filled":false,"color":"#333333","strokeWidth":1,"size":150,"opacity":1},"encoding":{
     "x":{"field":"x","type":"quantitative","axis":null},"y":{"field":"y","type":"quantitative","axis":null},"angle":{"field":"a","type":"quantitative","scale":null}}}
   ],"resolve":{"axis":{"x":"independent","y":"independent"}}}
  ],"spacing":0,"bounds":"flush"},
  {"vconcat":[
   {"width":280,"height":100,"layer":[
    {"data":{"name":"c1"},"mark":{"type":"line","color":"#ff0000"},"encoding":{
     "x":{"field":"x","type":"quantitative","scale":{"domain":[50,62.5],"nice":false,"zero":false},"axis":{"orient":"bottom","values":[50,51,52,53,54,55,56,57,58,59,60,61,62],"labels":false,"title":null,"tickSize":{"condition":{"test":"datum.value % 2 === 1","value":-3},"value":-6}}},
     "y":{"field":"y","type":"quantitative","scale":{"domain":[0,100],"nice":false},"axis":{"orient":"left","values":[10,20,30,40,50,60,70,80,90],"labels":false,"title":null,"tickSize":-4}}}},
    {"data":{"values":[{"x":59.08,"y":80,"t":"WSe₂"}]},"mark":{"type":"text","align":"left","baseline":"middle"},"encoding":{
     "x":{"field":"x","type":"quantitative","axis":{"orient":"top","values":[50,51,52,53,54,55,56,57,58,59,60,61,62],"labelExpr":"datum.value % 2 === 0 ? datum.label : ''","title":null,"labelPadding":15,"tickSize":{"condition":{"test":"datum.value % 2 === 1","value":-3},"value":-6}}},
     "y":{"field":"y","type":"quantitative","axis":null},
     "text":{"field":"t"}}},
    {"data":{"values":[{"x":50.07,"y":77,"t":"(c)"}]},"mark":{"type":"text","align":"left","baseline":"middle","fontSize":27},"encoding":{
     "x":{"field":"x","type":"quantitative","axis":null},"y":{"field":"y","type":"quantitative","axis":null},"text":{"field":"t"}}},
    {"data":{"values":[{"x":51.5,"y":52,"t":"Se 3d₅/₂"},{"x":56.6,"y":66,"t":"Se 3d₃/₂"}]},"mark":{"type":"text","align":"left","baseline":"middle","fontWeight":"normal","fontSize":19},"encoding":{
     "x":{"field":"x","type":"quantitative","axis":null},"y":{"field":"y","type":"quantitative","axis":null},"text":{"field":"t"}}},
    {"data":{"values":[{"x":53.28,"y":62,"x2":54.32,"y2":71},{"x":56.55,"y":72,"x2":55.8,"y2":72}]},"mark":{"type":"rule","color":"#333333","strokeWidth":1},"encoding":{
     "x":{"field":"x","type":"quantitative","axis":null},"y":{"field":"y","type":"quantitative","axis":null},"x2":{"field":"x2"},"y2":{"field":"y2"}}},
    {"data":{"values":[{"x":54.32,"y":71,"a":-21},{"x":55.8,"y":72,"a":180}]},"mark":{"type":"point","shape":"M-1,-0.7L0,0L-1,0.7","filled":false,"color":"#333333","strokeWidth":1,"size":150,"opacity":1},"encoding":{
     "x":{"field":"x","type":"quantitative","axis":null},"y":{"field":"y","type":"quantitative","axis":null},"angle":{"field":"a","type":"quantitative","scale":null}}}
   ],"resolve":{"axis":{"x":"independent","y":"independent"}}},
   {"width":280,"height":101,"layer":[
    {"data":{"name":"c2"},"mark":{"type":"line","color":"#ffcc00"},"encoding":{
     "x":{"field":"x","type":"quantitative","scale":{"domain":[50,62.5],"nice":false,"zero":false},"axis":{"orient":"bottom","values":[50,51,52,53,54,55,56,57,58,59,60,61,62],"labels":false,"title":null,"tickSize":{"condition":{"test":"datum.value % 2 === 1","value":-3},"value":-6}}},
     "y":{"field":"y","type":"quantitative","scale":{"domain":[0,101],"nice":false},"axis":{"orient":"left","values":[10,20,30,40,50,60,70,80,90],"labels":false,"title":"Counts (a.u.)","titleFontSize":25,"titleX":-9,"titleY":100,"titleBaseline":"alphabetic","tickSize":-4}}}},
    {"data":{"values":[{"x":61.9,"y":83,"t":"W(S₀.₄₈Se₀.₅₂)₂"}]},"mark":{"type":"text","align":"right","baseline":"middle"},"encoding":{
     "x":{"field":"x","type":"quantitative","axis":null},"y":{"field":"y","type":"quantitative","axis":null},"text":{"field":"t"}}}
   ],"resolve":{"axis":{"x":"independent","y":"independent"}}},
   {"width":280,"height":98,"layer":[
    {"data":{"name":"c3"},"mark":{"type":"line","color":"#22e84a"},"encoding":{
     "x":{"field":"x","type":"quantitative","scale":{"domain":[50,62.5],"nice":false,"zero":false},"axis":{"orient":"bottom","values":[50,51,52,53,54,55,56,57,58,59,60,61,62],"labels":false,"title":null,"tickSize":{"condition":{"test":"datum.value % 2 === 1","value":-3},"value":-6}}},
     "y":{"field":"y","type":"quantitative","scale":{"domain":[0,98],"nice":false},"axis":{"orient":"left","values":[10,20,30,40,50,60,70,80,90],"labels":false,"title":null,"tickSize":-4}}}},
    {"data":{"values":[{"x":62.26,"y":84,"t":"W(S₀.₇₅Se₀.₂₅)₂"}]},"mark":{"type":"text","align":"right","baseline":"middle"},"encoding":{
     "x":{"field":"x","type":"quantitative","axis":null},"y":{"field":"y","type":"quantitative","axis":null},"text":{"field":"t"}}}
   ],"resolve":{"axis":{"x":"independent","y":"independent"}}},
   {"width":280,"height":98,"layer":[
    {"data":{"name":"c4"},"mark":{"type":"line","color":"#0a0aff"},"encoding":{
     "x":{"field":"x","type":"quantitative","scale":{"domain":[50,62.5],"nice":false,"zero":false},"axis":{"orient":"bottom","values":[50,51,52,53,54,55,56,57,58,59,60,61,62],"labelExpr":"datum.value % 2 === 0 ? datum.label : ''","labelPadding":9,"title":"Binding Energy (eV)","titlePadding":7,"tickSize":{"condition":{"test":"datum.value % 2 === 1","value":-3},"value":-6}}},
     "y":{"field":"y","type":"quantitative","scale":{"domain":[0,98],"nice":false},"axis":{"orient":"left","values":[10,20,30,40,50,60,70,80,90],"labels":false,"title":null,"tickSize":-4}}}},
    {"data":{"values":[{"x":62.26,"y":81,"t":"W(S₀.₈₈Se₀.₁₂)₂"}]},"mark":{"type":"text","align":"right","baseline":"middle"},"encoding":{
     "x":{"field":"x","type":"quantitative","axis":null},"y":{"field":"y","type":"quantitative","axis":null},"text":{"field":"t"}}}
   ],"resolve":{"axis":{"x":"independent","y":"independent"}}}
  ],"spacing":0,"bounds":"flush"}
 ],"spacing":15}
],
"spacing":8
}
